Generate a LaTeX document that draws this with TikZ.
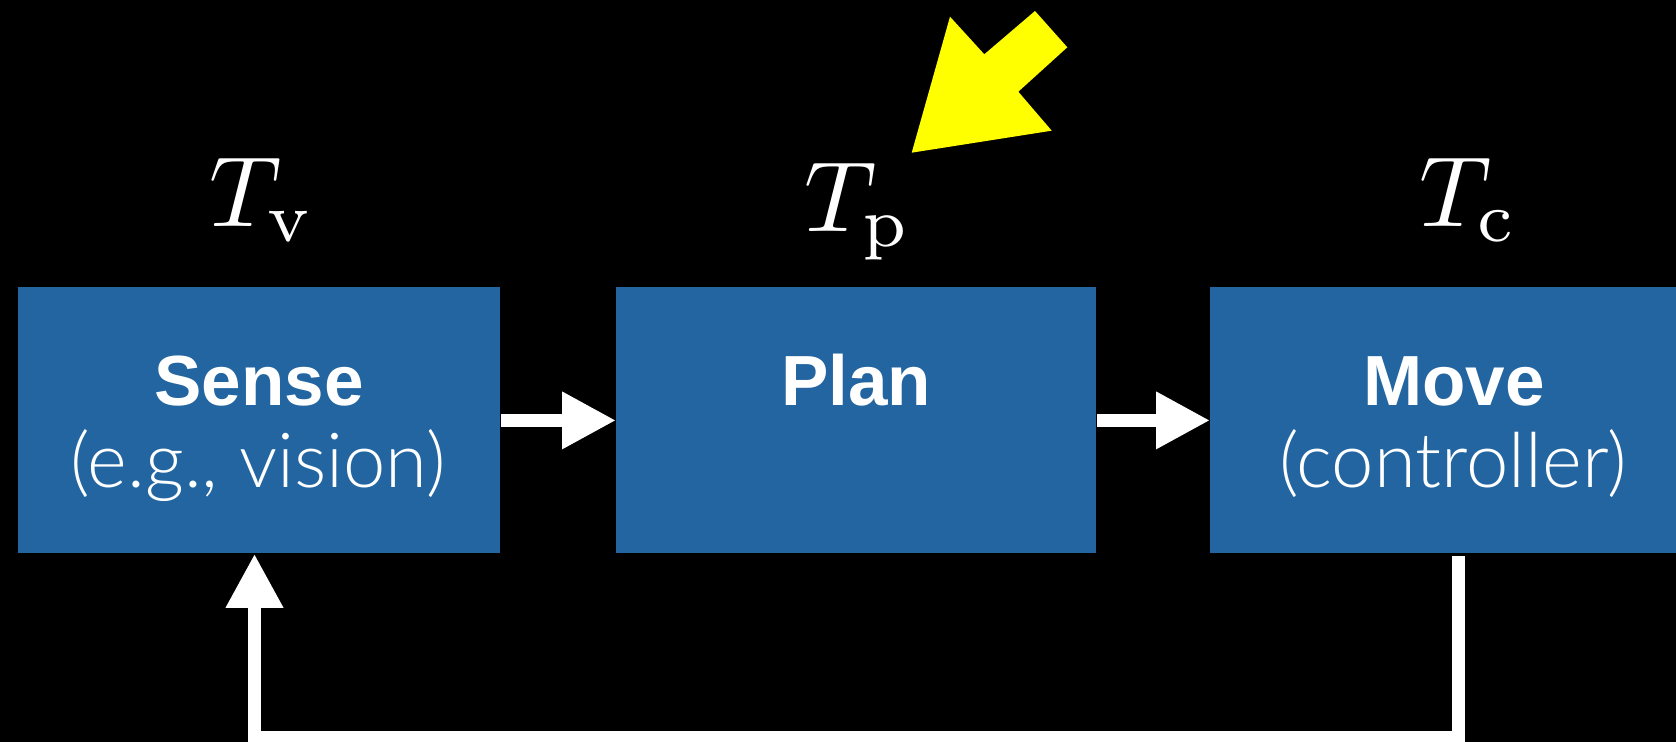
\RequirePackage{fix-cm}
\documentclass[tikz,border=0pt]{standalone}
\usepackage{graphicx}
\usepackage{fontspec}
\newfontfamily\hel{Liberation Sans}
\newfontfamily\hlight{Lato}[UprightFont={* Light}]
\usetikzlibrary{arrows.meta}
\definecolor{boxblue}{RGB}{35,101,160}
\definecolor{pointeryellow}{RGB}{255,255,0}
\begin{document}
\begin{tikzpicture}[x=0.5pt,y=-0.5pt,
  block/.style={fill=boxblue, draw=none, minimum width=240pt, minimum height=133pt, inner sep=0pt, anchor=north west},
  titletext/.style={text=white, font=\hel\bfseries\fontsize{35.5}{42}\selectfont, anchor=base, inner sep=0pt},
  subtext/.style={text=white, font=\hlight\fontsize{38}{44}\selectfont, anchor=base, inner sep=0pt},
  timelabel/.style={text=white, anchor=base, inner sep=0pt},
  flow/.style={draw=white, line width=6.5pt, -{Triangle[length=27pt,width=27pt]}},
]
\fill[black] (0,0) rectangle (1676,742);
\useasboundingbox (0,0) rectangle (1676,742);

\node[block, minimum width=241pt] (sense) at (18,287) {};
\node[block] (plan) at (616,287) {};
\node[block] (move) at (1210,287) {};

\node[titletext] (senseT) at (259,406) {Sense};
\node[subtext] (senseS) at (258,488) {(e.g., vision)};
\node[titletext] (planT) at (856,406) {Plan};
\node[titletext] (moveT) at (1454,406) {Move};
\node[subtext] (moveS) at (1453,488) {(controller)};

\node[timelabel] (tv) at (262,227) {\scalebox{5}{$T_{\mathrm{v}}$}};
\node[timelabel] (tp) at (858,232) {\scalebox{5}{$T_{\mathrm{p}}$}};
\node[timelabel] (tc) at (1469,227) {\scalebox{5}{$T_{\mathrm{c}}$}};

\draw[flow] (sense.east) -- (plan.west);
\draw[flow] (plan.east) -- (move.west);

\coordinate (fbR) at (1458,737.5);
\coordinate (fbL) at (254.5,737.5);
\draw[flow, shorten <=1pt] (move.south -| fbR) -- (fbR) -- (fbL) -- (sense.south -| fbL);

\fill[pointeryellow] (911.7,152.7) -- (950,16.7) -- (984.3,54.3) -- (1035,11) -- (1067.3,47.3) -- (1018.3,91.7) -- (1051.7,130.7) -- cycle;
\end{tikzpicture}
\end{document}
